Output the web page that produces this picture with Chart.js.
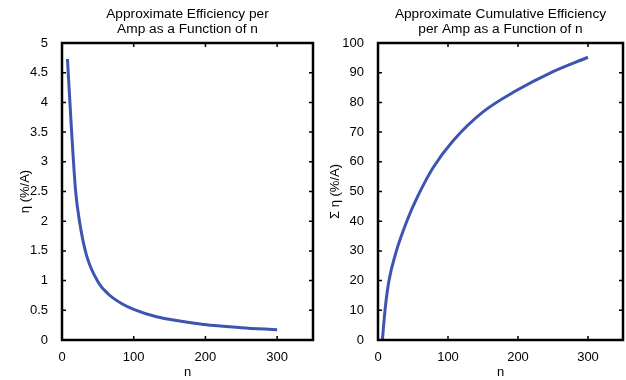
<!DOCTYPE html>
<html>
<head>
<meta charset="utf-8">
<script src="https://cdn.jsdelivr.net/npm/chart.js@4"></script>
<style>
    body { margin: 0; background: #fff; }
    #wrap { position: relative; width: 626px; height: 380px; }
    canvas { position: absolute; top: 0; }
</style>
</head>
<body>
<div id="wrap">
    <canvas id="effChart" width="320" height="380" style="left:0"></canvas>
    <canvas id="cumChart" width="306" height="380" style="left:320px"></canvas>
</div>
<script>
// Data
const effN = [7.6, 12.7, 18.9, 24.9, 34.3, 50.7, 64.8, 83.6, 100, 130.6, 198.6, 250, 300];
const effEta = [4.73, 3.65, 2.52, 1.96, 1.42, 0.97, 0.77, 0.61, 0.515, 0.395, 0.262, 0.208, 0.172];

const cumN = [6.3, 10, 15.7, 26.3, 42, 57, 78.6, 107, 150, 197.7, 245, 300];
const cumSum = [0, 10, 20, 30, 40.5, 48.5, 58, 67, 76.8, 84, 89.8, 95.2];

const xTicks = [0, 100, 200, 300];
const effYTicks = [0, 0.5, 1, 1.5, 2, 2.5, 3, 3.5, 4, 4.5, 5];
const cumYTicks = [0, 10, 20, 30, 40, 50, 60, 70, 80, 90, 100];

const font = { family: "'Liberation Sans', Arial, sans-serif", size: 13 };
const lineColor = '#3d55b0';

// Black box round the plot with small inward ticks on every side
const framePlugin = {
    id: 'frame',
    afterDraw(chart) {
        const { ctx, chartArea: a, scales: { x, y } } = chart;
        ctx.save();
        ctx.strokeStyle = '#000';
        ctx.lineWidth = 1.5;
        ctx.beginPath();
        x.ticks.forEach(t => {
            const px = x.getPixelForValue(t.value);
            ctx.moveTo(px, a.bottom); ctx.lineTo(px, a.bottom - 4);
            ctx.moveTo(px, a.top); ctx.lineTo(px, a.top + 4);
        });
        y.ticks.forEach(t => {
            const py = y.getPixelForValue(t.value);
            ctx.moveTo(a.left, py); ctx.lineTo(a.left + 4, py);
            ctx.moveTo(a.right, py); ctx.lineTo(a.right - 4, py);
        });
        ctx.stroke();
        ctx.lineWidth = 2.5;
        ctx.strokeRect(a.left, a.top, a.right - a.left, a.bottom - a.top);
        ctx.restore();
    }
};

function makeChart(id, cfg) {
    return new Chart(document.getElementById(id), {
        type: 'line',
        data: {
            datasets: [{
                data: cfg.xs.map((v, i) => ({ x: v, y: cfg.ys[i] })),
                borderColor: lineColor,
                borderWidth: 3,
                pointRadius: 0,
                cubicInterpolationMode: 'monotone',
                fill: false
            }]
        },
        options: {
            responsive: false,
            animation: false,
            layout: { padding: { left: 0, right: cfg.padRight, top: 0, bottom: 0 } },
            plugins: {
                legend: { display: false },
                tooltip: { enabled: false },
                title: {
                    display: true,
                    text: cfg.title,
                    fullSize: false,
                    color: '#000',
                    font: { ...font, size: 13.7, weight: 'normal', lineHeight: '15px' },
                    padding: { top: 7, bottom: 6 }
                }
            },
            scales: {
                x: {
                    type: 'linear',
                    min: 0,
                    max: 350,
                    afterBuildTicks: s => { s.ticks = xTicks.map(v => ({ value: v })); },
                    afterFit: s => { s.height = 40; },
                    grid: { display: false },
                    border: { display: false },
                    ticks: { font, color: '#000', padding: 2, maxRotation: 0, autoSkip: false,
                             callback: v => String(v) },
                    title: { display: true, text: 'n', font, color: '#000', padding: 0 }
                },
                y: {
                    type: 'linear',
                    min: 0,
                    max: cfg.yMax,
                    afterBuildTicks: s => { s.ticks = cfg.yTicks.map(v => ({ value: v })); },
                    afterFit: s => { s.width = cfg.yWidth; },
                    grid: { display: false },
                    border: { display: false },
                    ticks: { font, color: '#000', padding: 6, autoSkip: false,
                             callback: v => String(v) },
                    title: { display: true, text: cfg.yTitle, font, color: '#000', padding: cfg.yTitlePad }
                }
            }
        },
        plugins: [framePlugin]
    });
}

makeChart('effChart', {
    xs: effN, ys: effEta, yMax: 5, yTicks: effYTicks,
    title: ['Approximate Efficiency per', 'Amp as a Function of n'],
    yTitle: 'η (%/A)', yWidth: 62, yTitlePad: 18, padRight: 7
});

makeChart('cumChart', {
    xs: cumN, ys: cumSum, yMax: 100, yTicks: cumYTicks,
    title: ['Approximate Cumulative Efficiency', 'per Amp as a Function of n'],
    yTitle: 'Σ η (%/A)', yWidth: 58, yTitlePad: 8, padRight: 3
});
</script>
</body>
</html>
